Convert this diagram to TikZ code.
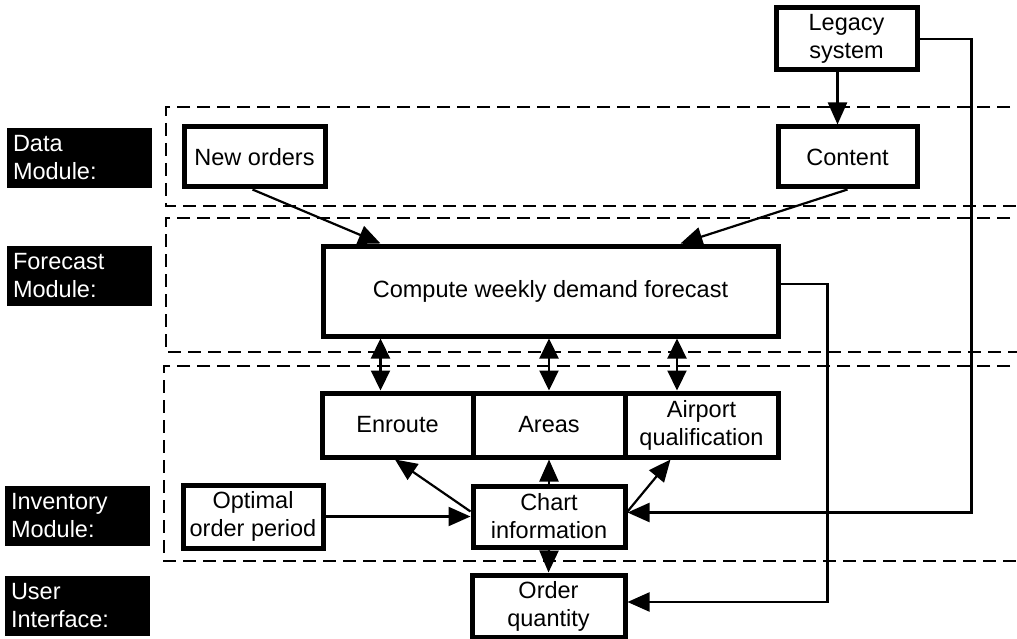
\documentclass[tikz,border=0pt]{standalone}
\usepackage{fontspec}
\setmainfont{Liberation Sans}
\usetikzlibrary{arrows.meta}
\begin{document}
\begin{tikzpicture}[x=1pt,y=-1pt,
  every node/.style={font=\fontsize{23.5}{28}\selectfont},
  boxst/.style={draw=black, line width=5pt, fill=white, inner sep=0pt, align=center},
  lbl/.style={fill=black, text=white, inner sep=0pt, align=left, text width=133pt, minimum width=145pt, minimum height=60pt},
  region/.style={line width=2.8pt, dash pattern=on 13pt off 7pt},
  conn/.style={line width=2.2pt},
  arr/.style={conn, -{Triangle[length=22pt,width=19pt]}},
  darr/.style={conn, {Triangle[length=20pt,width=19pt]}-{Triangle[length=20pt,width=19pt]}}]
\useasboundingbox (0,0) rectangle (1017,639);
\fill[white] (0,0) rectangle (1017,639);

% dashed module regions
\draw[region] (1030,107) -- (166,107) -- (166,206) -- (1030,206);
\draw[region] (1030,218) -- (166,218) -- (166,352) -- (1030,352);
\draw[region] (1030,366) -- (164,366) -- (164,561) -- (1030,561);

% module labels
\node[lbl] (ldata) at (79.5,158) {Data\\Module:};
\node[lbl] (lfore) at (79.5,276) {Forecast\\Module:};
\node[lbl] (linv) at (77.5,515.5) {Inventory\\Module:};
\node[lbl] (luser) at (77.5,606) {User\\Interface:};

% boxes
\node[boxst, minimum width=141pt, minimum height=62pt] (legacy) at (846.5,39) {Legacy\\system};
\node[boxst, minimum width=139pt, minimum height=60pt] (content) at (847.5,157) {Content};
\node[boxst, minimum width=141pt, minimum height=60pt] (neworders) at (254.5,157) {New orders};
\node[boxst, minimum width=455pt, minimum height=90pt] (compute) at (550.5,291) {Compute weekly demand forecast};
\node[boxst, minimum width=151pt, minimum height=64pt] (enroute) at (397.5,425) {Enroute};
\node[boxst, minimum width=152pt, minimum height=64pt] (areas) at (549,425) {Areas};
\node[boxst, minimum width=153pt, minimum height=64pt] (airport) at (701.5,425) {Airport\\qualification};
\node[boxst, minimum width=152pt, minimum height=61pt] (chart) at (549,516.5) {Chart\\information};
\node[boxst, minimum width=140pt, minimum height=63pt] (optimal) at (253,516.5) {Optimal\\order period};
\node[boxst, minimum width=153pt, minimum height=62pt] (orderq) at (548.5,606) {Order\\quantity};

% connectors
\draw[arr] ([xshift=-9pt]legacy.south) -- ([xshift=-9pt]legacy.south |- content.north);
\draw[arr] (legacy.east) -- ++(52,0) |- ([yshift=4pt]chart.east);
\draw[arr] ([yshift=7pt]compute.east) -- ++(47,0) |- ([yshift=4pt]orderq.east);
\draw[arr] ([xshift=-2pt]neworders.south) -- ([xshift=-170pt]compute.north);
\draw[arr] (content.south) -- ([xshift=130pt]compute.north);
\draw[darr] ([xshift=-170pt]compute.south) -- ([xshift=-170pt]compute.south |- enroute.north);
\draw[darr] (compute.south -| areas.north) -- (areas.north);
\draw[darr] ([xshift=126.5pt]compute.south) -- ([xshift=126.5pt]compute.south |- airport.north);
\draw[arr] ([yshift=5pt]chart.west) -- ([xshift=-2.5pt]enroute.south);
\draw[arr] ([yshift=5pt]chart.east) -- ([xshift=-31pt]airport.south);
\draw[arr] (optimal.east) -- (optimal.east -| chart.west);
\draw[arr] (chart.north) -- (areas.south);
\draw[arr] (chart.south) -- (orderq.north);
\end{tikzpicture}
\end{document}
